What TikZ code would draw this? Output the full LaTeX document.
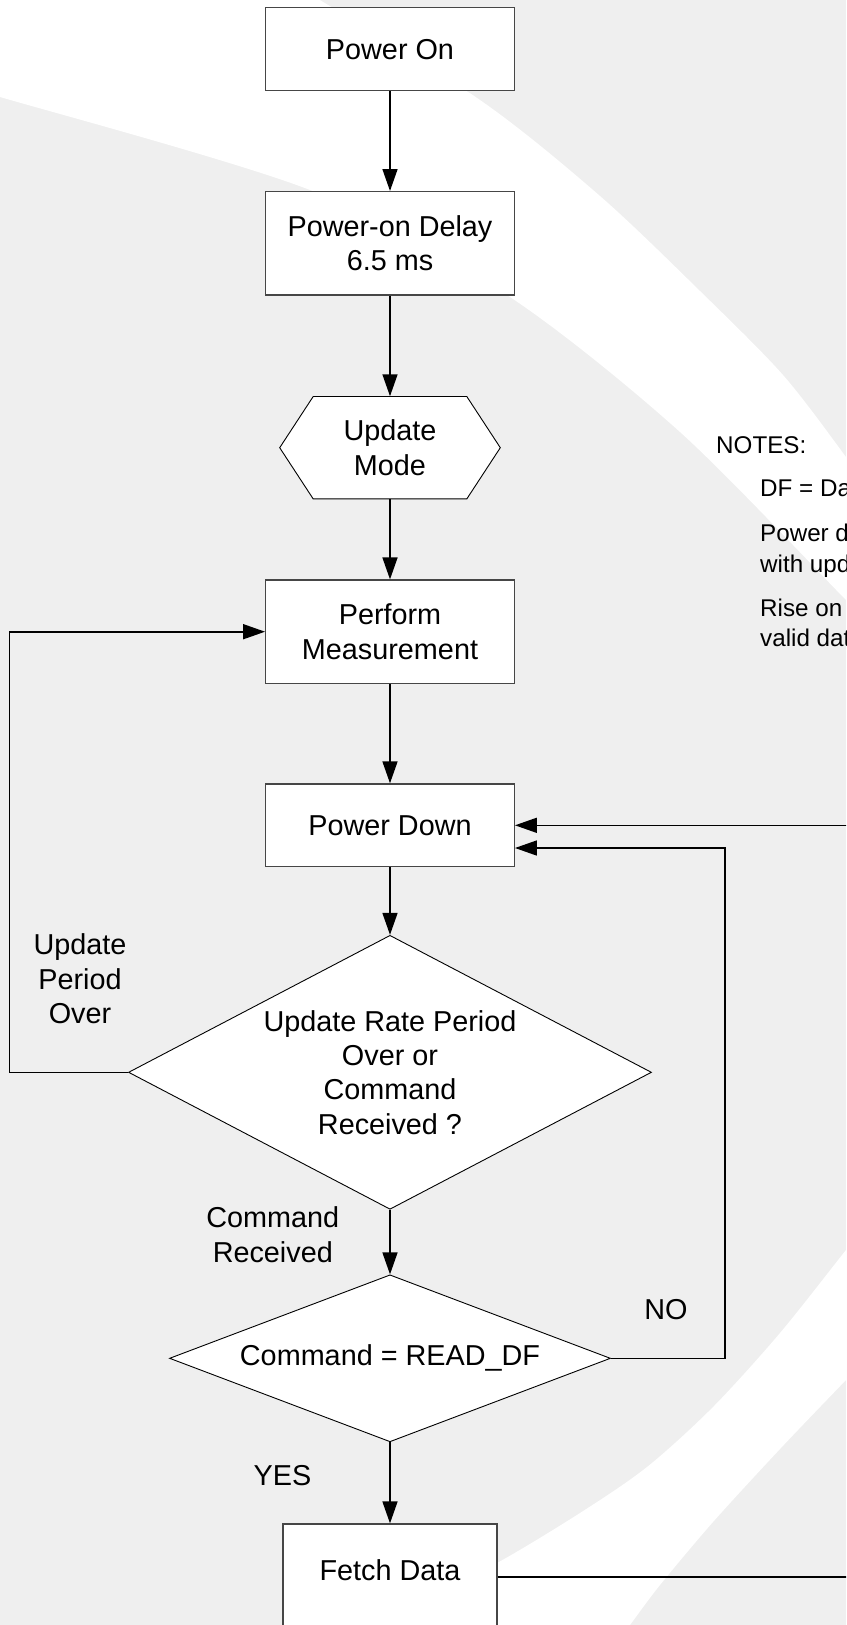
\documentclass[tikz,border=0pt]{standalone}
\usepackage{fontspec}
\setmainfont{Liberation Sans}
\usetikzlibrary{arrows.meta, shapes.geometric, calc}

\definecolor{bggray}{RGB}{239,239,239}
\definecolor{framegray}{RGB}{70,70,70}
\newcommand{\flowfont}{\fontsize{28.8}{34.4}\selectfont}
\newcommand{\notefont}{\fontsize{24.2}{30.6}\selectfont}

\tikzset{
    stepbox/.style={draw=framegray, line width=1.3pt, fill=white, minimum width=248.6pt, inner sep=0pt, align=center, font=\flowfont},
    decision/.style={diamond, draw=black, line width=0.9pt, fill=white, inner sep=0pt, align=center, font=\flowfont},
    flowtext/.style={inner sep=0pt, align=center, font=\flowfont},
    notetext/.style={inner sep=0pt, anchor=base west, font=\notefont},
    flow/.style={-{Triangle[length=22pt, width=15pt]}, line width=1.6pt},
    link/.style={line width=1.6pt},
}

\begin{document}
\begin{tikzpicture}[x=1pt, y=-1pt]
    \useasboundingbox (0,0) rectangle (846,1625);
    \clip (0,0) rectangle (846,1625);

    % background with the two white bands
    \fill[bggray] (0,0) rectangle (846,1625);
    \fill[white] plot[smooth] coordinates {(300,-12) (480,100) (600,196) (700,291) (783,375) (846,457) (880,505)}
        -- plot[smooth] coordinates {(880,634) (846,600) (680,432) (507,295) (310,190) (0,97) (-30,90)}
        -- (-30,-30) -- (300,-30) -- cycle;
    \fill[white] plot[smooth] coordinates {(880,1208) (846,1250) (780,1333) (713,1407) (647,1467) (580,1513) (497,1563) (420,1600) (340,1640)}
        -- plot[smooth] coordinates {(615,1645) (630,1625) (660,1585) (713,1522) (780,1449) (846,1380) (880,1345)}
        -- cycle;

    % flow chart
    \node[stepbox, minimum height=83pt] (on) at (390,49.2) {Power On};
    \node[stepbox, minimum height=103.3pt] (delay) at (390,243.3) {Power-on Delay\\6.5 ms};

    \coordinate (modec) at (390,447.7);
    \draw[line width=0.9pt, fill=white] ($(modec)+(-110.3,0)$) -- ($(modec)+(-76.8,-51.2)$) -- ($(modec)+(76.8,-51.2)$)
        -- ($(modec)+(110.3,0)$) -- ($(modec)+(76.8,51.2)$) -- ($(modec)+(-76.8,51.2)$) -- cycle;
    \node[flowtext, minimum width=153.7pt, minimum height=102.5pt] (mode) at (modec) {Update\\Mode};

    \node[stepbox, minimum height=103.3pt] (measure) at (390,631.7) {Perform\\Measurement};
    \node[stepbox, minimum height=82.7pt] (down) at (390,825.3) {Power Down};
    \node[decision, aspect=1.909, minimum width=523pt, minimum height=274pt] (rate) at (390,1072.3) {Update Rate Period\\Over or\\Command\\Received ?};
    \node[decision, aspect=2.641, minimum width=441pt, minimum height=167pt] (cmd) at (390,1358.3) {Command = READ\_DF};
    \node[stepbox, minimum width=213.9pt, minimum height=106pt, text depth=13pt] (fetch) at (390,1577) {Fetch Data};

    \coordinate (loopin) at (850,825.3);
    \coordinate (loopout) at (850,1577);

    \draw[flow] (on) -- (delay);
    \draw[flow] (delay) -- (mode);
    \draw[flow] (mode) -- (measure);
    \draw[flow] (measure) -- (down);
    \draw[flow] (down) -- (rate);
    \draw[flow] (rate) -- (cmd);
    \draw[flow] (cmd) -- (fetch);
    \draw[flow] (rate.west) -- ++(-118.5,0) |- (measure.west);
    \draw[flow] (cmd.east) -- ++(114,0) |- ($(down.east)+(0,22.7)$);
    \draw[flow] (loopin) -- (down.east);
    \draw[link] (fetch.east) -- (loopout);

    % branch labels
    \node[flowtext] (overlbl) at (80,979) {Update\\Period\\Over};
    \node[flowtext] (cmdlbl) at (272.8,1234.5) {Command\\Received};
    \node[flowtext, anchor=base] (nolbl) at (666,1319) {NO};
    \node[flowtext, anchor=base] (yeslbl) at (282.5,1485) {YES};

    % notes, cut off at the right edge
    \node[notetext] (notes) at (716,453.3) {NOTES:};
    \foreach \txt/\ypos [count=\i] in {DF = Da/496.7, Power d/541.7, with upd/572.3, Rise on/616, valid dat/646}
        \node[notetext] (note\i) at (760,\ypos) {\txt};
\end{tikzpicture}
\end{document}
